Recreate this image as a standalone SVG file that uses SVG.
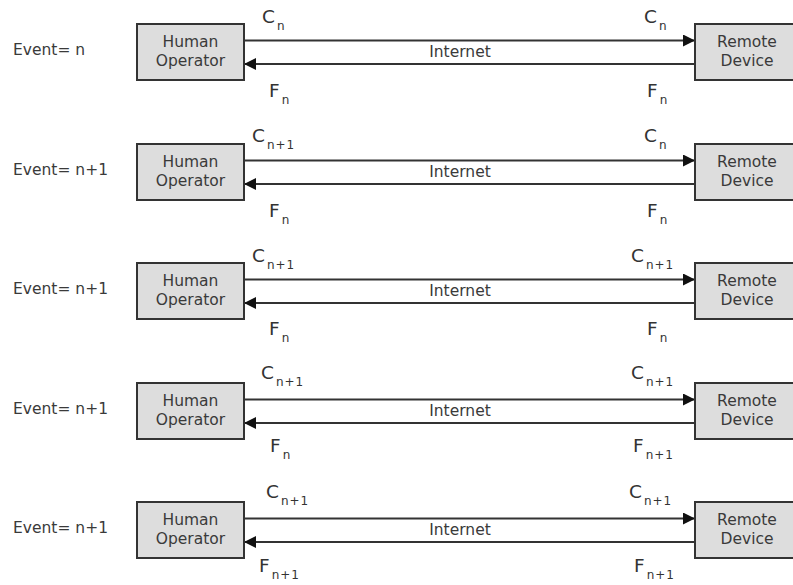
<svg xmlns="http://www.w3.org/2000/svg" width="793" height="585" viewBox="0 0 793 585">
  <style>
    .box { fill: #dddddd; stroke: #333333; stroke-width: 2; }
    .lbl { font-family: "DejaVu Sans", Verdana, sans-serif; font-size: 15.5px; fill: #3a3a3a; }
    .mid { text-anchor: middle; }
    .sig { font-family: "DejaVu Sans", Verdana, sans-serif; font-size: 18.5px; fill: #333333; }
    .sub { font-size: 12px; letter-spacing: 1px; fill: #333333; }
    .link { stroke: #333333; stroke-width: 2; fill: none; }
  </style>
  <defs>
    <marker id="arrow" markerUnits="userSpaceOnUse" markerWidth="13" markerHeight="13" refX="12" refY="6" orient="auto">
      <path d="M0,0 L12,6 L0,12 Z" fill="#111111"/>
    </marker>
  </defs>
  <rect width="793" height="585" fill="#ffffff"/>

  <!-- event labels -->
  <g id="events" class="lbl">
    <text x="13" y="55">Event= n</text>
    <text x="13" y="175">Event= n+1</text>
    <text x="13" y="294">Event= n+1</text>
    <text x="13" y="414">Event= n+1</text>
    <text x="13" y="533">Event= n+1</text>
  </g>

  <!-- connectors: command (top, to device) and feedback (bottom, to operator) -->
  <g id="connectors">
    <line class="link" x1="244" y1="40.5" x2="695" y2="40.5" marker-end="url(#arrow)"/>
    <line class="link" x1="695" y1="64" x2="244" y2="64" marker-end="url(#arrow)"/>
    <line class="link" x1="244" y1="160.5" x2="695" y2="160.5" marker-end="url(#arrow)"/>
    <line class="link" x1="695" y1="184" x2="244" y2="184" marker-end="url(#arrow)"/>
    <line class="link" x1="244" y1="279.5" x2="695" y2="279.5" marker-end="url(#arrow)"/>
    <line class="link" x1="695" y1="303" x2="244" y2="303" marker-end="url(#arrow)"/>
    <line class="link" x1="244" y1="399.5" x2="695" y2="399.5" marker-end="url(#arrow)"/>
    <line class="link" x1="695" y1="423" x2="244" y2="423" marker-end="url(#arrow)"/>
    <line class="link" x1="244" y1="518.5" x2="695" y2="518.5" marker-end="url(#arrow)"/>
    <line class="link" x1="695" y1="542" x2="244" y2="542" marker-end="url(#arrow)"/>
  </g>

  <g id="internet-labels" class="lbl mid">
    <text x="460" y="57">Internet</text>
    <text x="460" y="177">Internet</text>
    <text x="460" y="296">Internet</text>
    <text x="460" y="416">Internet</text>
    <text x="460" y="535">Internet</text>
  </g>

  <!-- operator nodes -->
  <g id="operator-1"><rect class="box" x="137" y="24" width="107" height="56"/><text class="lbl mid" x="190.5" y="47">Human</text><text class="lbl mid" x="190.5" y="66">Operator</text></g>
  <g id="operator-2"><rect class="box" x="137" y="144" width="107" height="56"/><text class="lbl mid" x="190.5" y="167">Human</text><text class="lbl mid" x="190.5" y="186">Operator</text></g>
  <g id="operator-3"><rect class="box" x="137" y="263" width="107" height="56"/><text class="lbl mid" x="190.5" y="286">Human</text><text class="lbl mid" x="190.5" y="305">Operator</text></g>
  <g id="operator-4"><rect class="box" x="137" y="383" width="107" height="56"/><text class="lbl mid" x="190.5" y="406">Human</text><text class="lbl mid" x="190.5" y="425">Operator</text></g>
  <g id="operator-5"><rect class="box" x="137" y="502" width="107" height="56"/><text class="lbl mid" x="190.5" y="525">Human</text><text class="lbl mid" x="190.5" y="544">Operator</text></g>

  <!-- remote device nodes -->
  <g id="device-1"><rect class="box" x="695" y="24" width="104" height="56"/><text class="lbl mid" x="747" y="47">Remote</text><text class="lbl mid" x="747" y="66">Device</text></g>
  <g id="device-2"><rect class="box" x="695" y="144" width="104" height="56"/><text class="lbl mid" x="747" y="167">Remote</text><text class="lbl mid" x="747" y="186">Device</text></g>
  <g id="device-3"><rect class="box" x="695" y="263" width="104" height="56"/><text class="lbl mid" x="747" y="286">Remote</text><text class="lbl mid" x="747" y="305">Device</text></g>
  <g id="device-4"><rect class="box" x="695" y="383" width="104" height="56"/><text class="lbl mid" x="747" y="406">Remote</text><text class="lbl mid" x="747" y="425">Device</text></g>
  <g id="device-5"><rect class="box" x="695" y="502" width="104" height="56"/><text class="lbl mid" x="747" y="525">Remote</text><text class="lbl mid" x="747" y="544">Device</text></g>

  <!-- command (C) and feedback (F) signal labels -->
  <g id="signal-labels" class="sig">
    <text x="262" y="23">C<tspan class="sub" dx="2" dy="7">n</tspan></text>
    <text x="644" y="23">C<tspan class="sub" dx="2" dy="7">n</tspan></text>
    <text x="269" y="97">F<tspan class="sub" dx="2" dy="7">n</tspan></text>
    <text x="647" y="97">F<tspan class="sub" dx="2" dy="7">n</tspan></text>

    <text x="252" y="142">C<tspan class="sub" dx="2" dy="7">n+1</tspan></text>
    <text x="644" y="142">C<tspan class="sub" dx="2" dy="7">n</tspan></text>
    <text x="269" y="217">F<tspan class="sub" dx="2" dy="7">n</tspan></text>
    <text x="647" y="217">F<tspan class="sub" dx="2" dy="7">n</tspan></text>

    <text x="252" y="262">C<tspan class="sub" dx="2" dy="7">n+1</tspan></text>
    <text x="631" y="262">C<tspan class="sub" dx="2" dy="7">n+1</tspan></text>
    <text x="269" y="335">F<tspan class="sub" dx="2" dy="7">n</tspan></text>
    <text x="647" y="335">F<tspan class="sub" dx="2" dy="7">n</tspan></text>

    <text x="261" y="379">C<tspan class="sub" dx="2" dy="7">n+1</tspan></text>
    <text x="631" y="379">C<tspan class="sub" dx="2" dy="7">n+1</tspan></text>
    <text x="270" y="452">F<tspan class="sub" dx="2" dy="7">n</tspan></text>
    <text x="633" y="452">F<tspan class="sub" dx="2" dy="7">n+1</tspan></text>

    <text x="266" y="498">C<tspan class="sub" dx="2" dy="7">n+1</tspan></text>
    <text x="629" y="498">C<tspan class="sub" dx="2" dy="7">n+1</tspan></text>
    <text x="259" y="572">F<tspan class="sub" dx="2" dy="7">n+1</tspan></text>
    <text x="634" y="572">F<tspan class="sub" dx="2" dy="7">n+1</tspan></text>
  </g>
</svg>
